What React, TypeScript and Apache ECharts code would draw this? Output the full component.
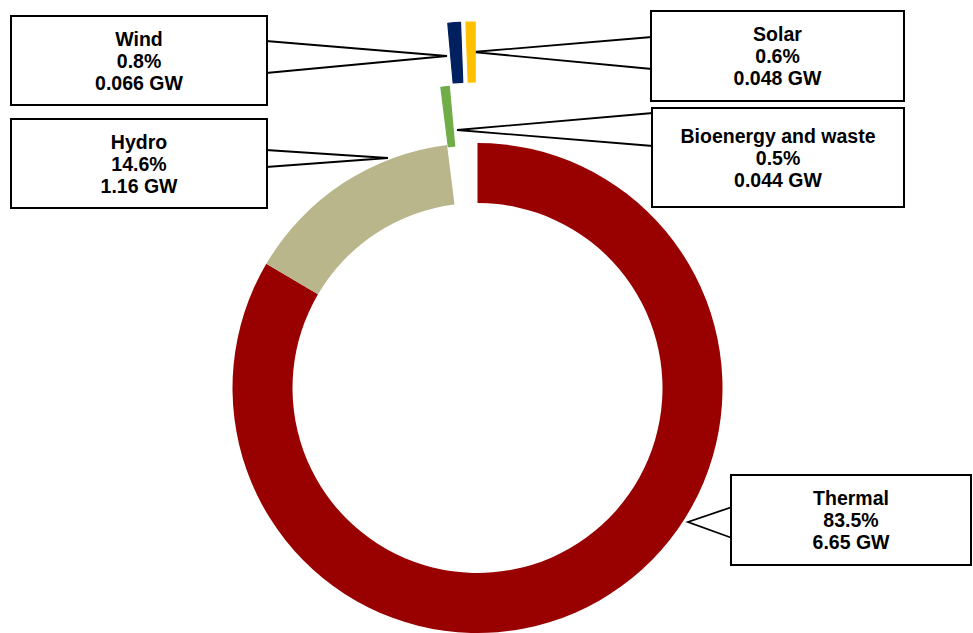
import { useEffect, useRef } from 'react';
import * as echarts from 'echarts';

// ---- data ----
const categories = ['Thermal', 'Hydro', 'Bioenergy and waste', 'Wind', 'Solar'];
const capacityGW = [6.65, 1.16, 0.044, 0.066, 0.048];
const shareLabels = ['83.5%', '14.6%', '0.5%', '0.8%', '0.6%'];
const gwLabels = ['6.65 GW', '1.16 GW', '0.044 GW', '0.066 GW', '0.048 GW'];

// ---- styling / layout ----
const colors = ['#990000', '#B8B68A', '#70AD47', '#002060', '#FFC000'];
const explodeLayer = [0, 0, 1, 2, 2];
const explodeOffsets = [0, 58, 121];
const CENTER = [477.5, 388];
const RADIUS = [185, 245];

type Box = { x: number; y: number; w: number; h: number; edge: number; base: [number, number]; tip: [number, number] };
const boxes: Box[] = [
  { x: 732, y: 476, w: 238, h: 88, edge: 732, base: [507, 538], tip: [688, 522] },
  { x: 12, y: 120, w: 254, h: 87, edge: 266, base: [150, 167], tip: [388, 158] },
  { x: 653, y: 109, w: 250, h: 97, edge: 653, base: [113, 146], tip: [457, 130] },
  { x: 12, y: 17, w: 254, h: 87, edge: 266, base: [41, 73], tip: [447, 56] },
  { x: 652, y: 12, w: 251, h: 88, edge: 652, base: [37, 69], tip: [473, 52] },
];

const LINE_H = 22;

function buildSeries(layer: number) {
  const isBase = layer === 0;
  return {
    type: 'pie',
    center: CENTER,
    radius: RADIUS,
    startAngle: 90,
    clockwise: true,
    avoidLabelOverlap: false,
    silent: true,
    z: 2 + layer,
    selectedMode: isBase ? false : 'multiple',
    selectedOffset: explodeOffsets[layer],
    emphasis: { disabled: true },
    label: isBase
      ? {
          show: true,
          position: 'outside',
          color: '#000',
          fontFamily: '"Liberation Sans", Arial, sans-serif',
          fontWeight: 'bold',
          fontSize: 19.5,
          lineHeight: LINE_H,
          align: 'center',
          backgroundColor: '#fff',
          borderColor: '#000',
          borderWidth: 2,
          overflow: 'none',
          formatter: (p: any) =>
            `${categories[p.dataIndex]}\n${shareLabels[p.dataIndex]}\n${gwLabels[p.dataIndex]}`,
        }
      : { show: false },
    labelLine: isBase
      ? { show: true, length: 5, length2: 5, lineStyle: { color: '#000', width: 1.8 } }
      : { show: false },
    labelLayout: isBase
      ? (params: any) => {
          const b = boxes[params.dataIndex];
          return {
            x: b.x + b.w / 2,
            y: b.y + b.h / 2,
            align: 'center',
            verticalAlign: 'middle',
            width: b.w,
            labelLinePoints: [
              [b.edge, b.base[0]],
              [b.tip[0], b.tip[1]],
              [b.edge, b.base[1]],
            ],
          };
        }
      : undefined,
    data: categories.map((name, i) => {
      const visible = explodeLayer[i] === layer;
      const color = visible ? colors[i] : 'rgba(0,0,0,0)';
      const bw = visible && !isBase ? 1.2 : 0;
      const pad = (boxes[i].h - 3 * LINE_H) / 2;
      const style = { color, borderColor: color, borderWidth: bw };
      return {
        name,
        value: capacityGW[i],
        selected: !isBase && visible,
        itemStyle: style,
        select: { itemStyle: style },
        label: isBase ? { padding: [pad, 0, pad, 0] } : undefined,
      };
    }),
  };
}

export default function App() {
  const ref = useRef<HTMLDivElement>(null);
  useEffect(() => {
    document.body.style.margin = '0';
    const chart = echarts.init(ref.current!, null, { renderer: 'svg' });
    chart.setOption({
      animation: false,
      backgroundColor: '#fff',
      series: [buildSeries(0), buildSeries(1), buildSeries(2)],
    });
    return () => chart.dispose();
  }, []);
  return (
    <div
      ref={ref}
      style={{ position: 'absolute', left: 0, top: 0, width: 973, height: 633 }}
    />
  );
}
